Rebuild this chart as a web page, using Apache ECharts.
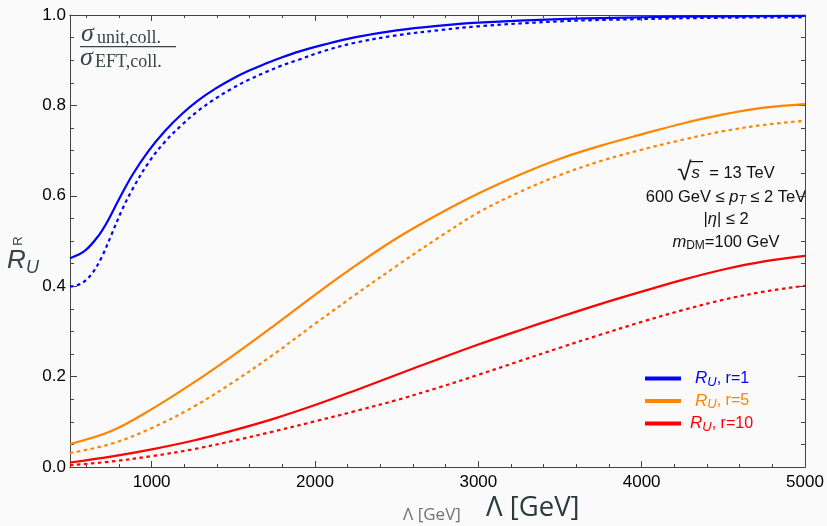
<!DOCTYPE html>
<html>
<head>
<meta charset="utf-8">
<script src="https://cdn.jsdelivr.net/npm/echarts@6/dist/echarts.min.js"></script>
<style>
html,body{margin:0;padding:0;background:#fafafa;}
#c{width:827px;height:526px;}
</style>
</head>
<body>
<div id="c"></div>
<script>
// ---- data ----
var lambdaBlueSolid = [500, 590, 675, 735, 795, 880, 980, 1080, 1185, 1285, 1390, 1490, 1590, 1695, 1795, 1900, 2060, 2250, 2500, 2750, 3000, 3500, 4000, 4500, 5000];
var blueSolid = [0.462, 0.478, 0.512, 0.547, 0.589, 0.645, 0.699, 0.743, 0.781, 0.811, 0.837, 0.858, 0.876, 0.892, 0.906, 0.919, 0.935, 0.951, 0.966, 0.976, 0.983, 0.991, 0.995, 0.997, 0.998];
var lambdaBlueDotted = [500, 570, 635, 695, 755, 815, 880, 980, 1080, 1185, 1285, 1390, 1490, 1590, 1695, 1795, 1900, 2060, 2250, 2500, 2750, 3000, 3500, 4000, 4500, 5000];
var blueDotted = [0.399, 0.406, 0.428, 0.465, 0.515, 0.566, 0.613, 0.673, 0.719, 0.757, 0.788, 0.815, 0.837, 0.856, 0.873, 0.888, 0.901, 0.921, 0.939, 0.955, 0.966, 0.975, 0.986, 0.991, 0.994, 0.995];

var lambdaOR = [500, 750, 1000, 1250, 1500, 1750, 2000, 2250, 2500, 2750, 3000, 3250, 3500, 3750, 4000, 4250, 4500, 4750, 5000];
var orangeSolid  = [0.051, 0.079, 0.128, 0.185, 0.247, 0.313, 0.381, 0.446, 0.506, 0.558, 0.605, 0.646, 0.682, 0.711, 0.736, 0.760, 0.780, 0.795, 0.803];
var orangeDotted = [0.031, 0.051, 0.086, 0.132, 0.188, 0.250, 0.317, 0.382, 0.445, 0.506, 0.563, 0.608, 0.646, 0.677, 0.702, 0.724, 0.743, 0.757, 0.766];
var redSolid  = [0.010, 0.023, 0.039, 0.058, 0.081, 0.107, 0.137, 0.170, 0.204, 0.238, 0.271, 0.302, 0.332, 0.361, 0.388, 0.414, 0.437, 0.455, 0.467];
var redDotted = [0.004, 0.012, 0.024, 0.039, 0.058, 0.079, 0.101, 0.124, 0.148, 0.175, 0.204, 0.234, 0.264, 0.293, 0.321, 0.347, 0.370, 0.388, 0.401];

var xMajorTicks = [1000, 2000, 3000, 4000, 5000];
var xMinorTicks = [600, 800, 1200, 1400, 1600, 1800, 2200, 2400, 2600, 2800, 3200, 3400, 3600, 3800, 4200, 4400, 4600, 4800];
var legendNames = ['r=1', 'r=5', 'r=10'];

function pairs(xs, ys) { return xs.map(function (x, i) { return [x, ys[i]]; }); }

var BLUE = '#0000ff', ORANGE = '#ff8400', RED = '#ff0000';
var AX = '#444444';
var FONT = '"Liberation Sans", Arial, sans-serif';

function lineSeries(name, xs, ys, color, dotted) {
  return {
    name: name, type: 'line', xAxisIndex: 0, yAxisIndex: 0,
    data: pairs(xs, ys), smooth: 0.35, showSymbol: false, symbol: 'none',
    lineStyle: { color: color, width: 2.2, type: dotted ? [3.5, 3.5] : 'solid' },
    itemStyle: { color: color }, z: dotted ? 2 : 3
  };
}

function xAx(pos, ticks, len, labels) {
  return {
    type: 'value', position: pos, min: 500, max: 5000, offset: 0,
    axisLine: { show: true, onZero: false, lineStyle: { color: AX, width: 1 } },
    axisTick: { show: true, inside: true, length: len, customValues: ticks, lineStyle: { color: AX, width: 1 } },
    axisLabel: labels ? { show: true, customValues: ticks, color: '#000', fontSize: 17, fontFamily: FONT, margin: 7,
      formatter: function (v) { return String(v); } } : { show: false },
    splitLine: { show: false }
  };
}
function yAx(pos, labels) {
  return {
    type: 'value', position: pos, min: 0, max: 1, interval: 0.2, offset: 0,
    axisLine: { show: true, onZero: false, lineStyle: { color: AX, width: 1 } },
    axisTick: { show: true, inside: true, length: 7, lineStyle: { color: AX, width: 1 } },
    minorTick: { show: true, splitNumber: 4, length: 4, lineStyle: { color: AX, width: 1 } },
    axisLabel: labels ? { show: true, color: '#000', fontSize: 17, fontFamily: FONT, margin: 4, formatter: function (v) { return v.toFixed(1); } } : { show: false },
    splitLine: { show: false }
  };
}

var chart = echarts.init(document.getElementById('c'), null, { renderer: 'canvas' });
var serif = '"Liberation Serif", "DejaVu Serif", serif';
var txtGray = '#364545';
var ANN = '#111111';
var legendPad = { 'r=1': 9, 'r=5': 9, 'r=10': 4 };

var option = {
  backgroundColor: '#fafafa',
  animation: false,
  grid: { left: 70, right: 22, top: 15, bottom: 59, containLabel: false },
  xAxis: [
    xAx('bottom', xMajorTicks, 6, true),
    xAx('bottom', xMinorTicks, 3, false),
    xAx('top', xMajorTicks, 6, false),
    xAx('top', xMinorTicks, 3, false)
  ],
  yAxis: [yAx('left', true), yAx('right', false)],
  legend: {
    orient: 'vertical', left: 640, top: 365, itemGap: 4,
    itemWidth: 36, itemHeight: 4, icon: 'rect',
    data: [
      { name: legendNames[0], textStyle: { color: BLUE, padding: [0, 0, 0, legendPad['r=1']] } },
      { name: legendNames[1], textStyle: { color: ORANGE, padding: [0, 0, 0, legendPad['r=5']] } },
      { name: legendNames[2], textStyle: { color: RED, padding: [0, 0, 0, legendPad['r=10']] } }
    ],
    formatter: function (n) { return '{i|R}{s|U}{n|, ' + n + '}'; },
    textStyle: {
      fontFamily: FONT, fontSize: 16,
      rich: {
        i: { fontStyle: 'italic', fontSize: 17, fontFamily: FONT },
        s: { fontStyle: 'italic', fontSize: 13, fontFamily: FONT, padding: [7, 0, 0, 0] },
        n: { fontSize: 16, fontFamily: FONT }
      }
    }
  },
  series: [
    lineSeries(legendNames[0], lambdaBlueSolid, blueSolid, BLUE, false),
    lineSeries('r=1 dotted', lambdaBlueDotted, blueDotted, BLUE, true),
    lineSeries(legendNames[1], lambdaOR, orangeSolid, ORANGE, false),
    lineSeries('r=5 dotted', lambdaOR, orangeDotted, ORANGE, true),
    lineSeries(legendNames[2], lambdaOR, redSolid, RED, false),
    lineSeries('r=10 dotted', lambdaOR, redDotted, RED, true)
  ],
  graphic: [
    // fraction sigma_unit,coll. / sigma_EFT,coll.
    { type: 'text', style: { x: 81, y: 34, verticalAlign: 'middle', text: 'σ', fill: txtGray, fontFamily: serif, fontStyle: 'italic', fontSize: 26 } },
    { type: 'text', style: { x: 97, y: 38, verticalAlign: 'middle', text: 'unit,coll.', fill: txtGray, fontFamily: serif, fontSize: 18 } },
    { type: 'rect', shape: { x: 80, y: 46, width: 96, height: 1.2 }, style: { fill: txtGray } },
    { type: 'text', style: { x: 80, y: 58, verticalAlign: 'middle', text: 'σ', fill: txtGray, fontFamily: serif, fontStyle: 'italic', fontSize: 26 } },
    { type: 'text', style: { x: 95, y: 62, verticalAlign: 'middle', text: 'EFT,coll.', fill: txtGray, fontFamily: serif, fontSize: 18 } },
    // y-axis title R_U with rotated R
    { type: 'text', style: { x: 7, y: 261, verticalAlign: 'middle', text: 'R', fill: txtGray, fontFamily: FONT, fontStyle: 'italic', fontSize: 26 } },
    { type: 'text', style: { x: 26, y: 268, verticalAlign: 'middle', text: 'U', fill: txtGray, fontFamily: FONT, fontStyle: 'italic', fontSize: 18 } },
    { type: 'text', x: 18, y: 241, rotation: Math.PI / 2, style: { x: 0, y: 0, align: 'center', verticalAlign: 'middle', text: 'R', fill: txtGray, fontFamily: FONT, fontSize: 13 } },
    // x-axis titles
    { type: 'text', style: { x: 403, y: 515, verticalAlign: 'middle', text: 'Λ [GeV]', fill: '#727272', fontFamily: '"Open Sans", "Liberation Sans", sans-serif', fontSize: 17 } },
    { type: 'text', style: { x: 486, y: 508, verticalAlign: 'middle', text: 'Λ [GeV]', fill: '#2b3a3a', fontFamily: '"Open Sans", "Liberation Sans", sans-serif', fontSize: 27.5 } },
    // annotation block
    { type: 'text', style: { x: 726, y: 173, align: 'center', verticalAlign: 'middle', text: '{r|√}{s|s}{n|  = 13 TeV}', fill: ANN,
      rich: { r: { fontFamily: FONT, fontSize: 26, fill: ANN }, s: { fontFamily: FONT, fontStyle: 'italic', fontSize: 17, fill: ANN }, n: { fontFamily: FONT, fontSize: 16.5, fill: ANN } } } },
    { type: 'rect', shape: { x: 691, y: 161, width: 12, height: 1.2 }, style: { fill: ANN } },
    { type: 'text', style: { x: 726, y: 197, align: 'center', verticalAlign: 'middle', text: '{n|600 GeV ≤ }{i|p}{t|T}{n| ≤ 2 TeV}', fill: ANN,
      rich: { n: { fontFamily: FONT, fontSize: 16.5, fill: ANN }, i: { fontFamily: FONT, fontStyle: 'italic', fontSize: 16.5, fill: ANN }, t: { fontFamily: FONT, fontStyle: 'italic', fontSize: 12, fill: ANN, padding: [7, 0, 0, 0] } } } },
    { type: 'text', style: { x: 726, y: 219, align: 'center', verticalAlign: 'middle', text: '{n||}{i|η}{n|| ≤ 2}', fill: ANN,
      rich: { n: { fontFamily: FONT, fontSize: 16.5, fill: ANN }, i: { fontFamily: FONT, fontStyle: 'italic', fontSize: 16.5, fill: ANN } } } },
    { type: 'text', style: { x: 726, y: 242, align: 'center', verticalAlign: 'middle', text: '{i|m}{t|DM}{n|=100 GeV}', fill: ANN,
      rich: { n: { fontFamily: FONT, fontSize: 16.5, fill: ANN }, i: { fontFamily: FONT, fontStyle: 'italic', fontSize: 16.5, fill: ANN }, t: { fontFamily: FONT, fontSize: 12, fill: ANN, padding: [7, 0, 0, 0] } } } }
  ]
};
chart.setOption(option);
</script>
</body>
</html>
